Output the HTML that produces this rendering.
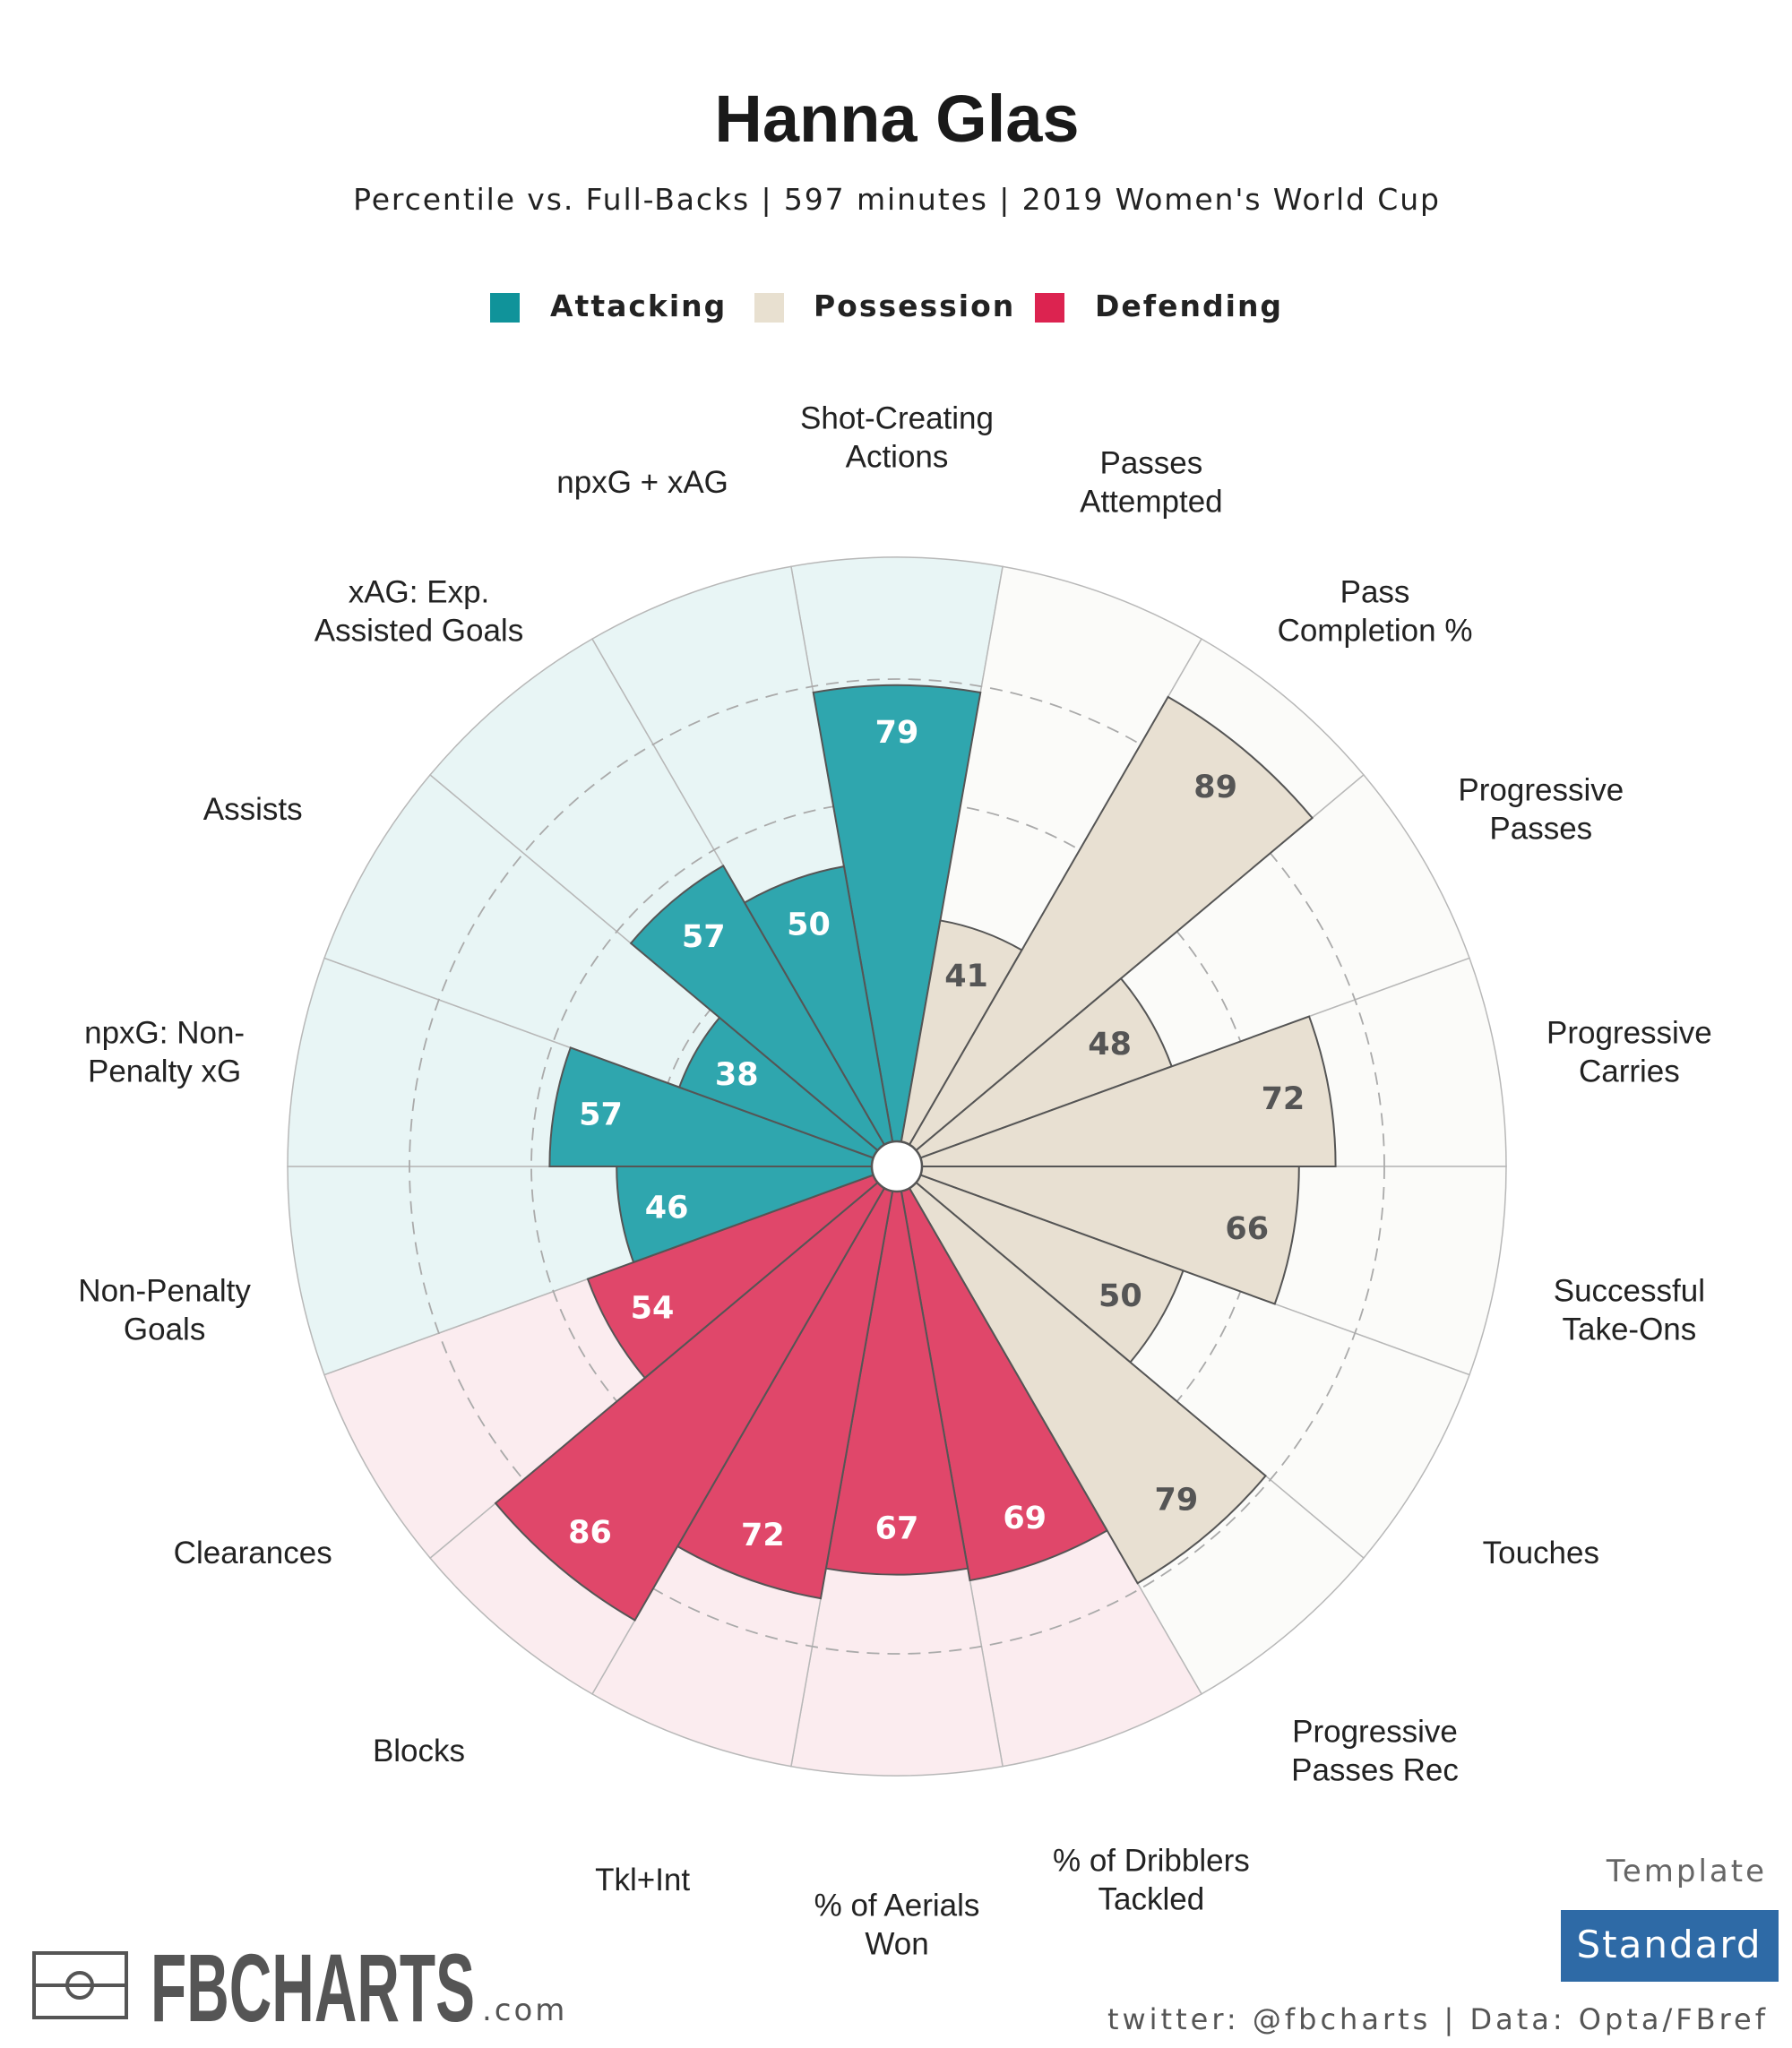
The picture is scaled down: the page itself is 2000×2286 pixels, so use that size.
<!DOCTYPE html>
<html><head><meta charset="utf-8">
<style>
html,body{margin:0;padding:0;background:#fff;}
svg{display:block;}
text{font-family:"Liberation Sans",sans-serif;}
</style></head>
<body>
<svg id="chart" width="2000" height="2286" viewBox="0 0 2000 2286" xmlns="http://www.w3.org/2000/svg">
<rect width="2000" height="2286" fill="#fff"/>
<text x="1001" y="158" text-anchor="middle" font-size="74" font-weight="bold" fill="#1a1a1a">Hanna Glas</text>
<text x="1001" y="234" text-anchor="middle" font-size="33" fill="#222" style="font-family:'DejaVu Sans',sans-serif" letter-spacing="1.9">Percentile vs. Full-Backs | 597 minutes | 2019 Women's World Cup</text>
<g>
 <rect x="547" y="327" width="33" height="33" fill="#10939a"/>
 <text x="614" y="353" font-size="33" font-weight="bold" fill="#222" style="font-family:'DejaVu Sans',sans-serif" letter-spacing="2">Attacking</text>
 <rect x="842" y="327" width="33" height="33" fill="#e8e0d0"/>
 <text x="908" y="353" font-size="33" font-weight="bold" fill="#222" style="font-family:'DejaVu Sans',sans-serif" letter-spacing="2">Possession</text>
 <rect x="1155" y="327" width="33" height="33" fill="#dc2350"/>
 <text x="1222" y="353" font-size="33" font-weight="bold" fill="#222" style="font-family:'DejaVu Sans',sans-serif" letter-spacing="2">Defending</text>
</g>
<g id="bg"></g><g id="grid"></g><g id="bars"></g><g id="vals"></g><g id="labels"></g>
<circle cx="1001" cy="1302" r="28" fill="#fff" stroke="#555" stroke-width="2.5"/>

<g>
 <rect x="38" y="2180" width="103" height="72" fill="none" stroke="#555" stroke-width="4"/>
 <line x1="38" y1="2216" x2="141" y2="2216" stroke="#555" stroke-width="4"/>
 <circle cx="89" cy="2216" r="14" fill="none" stroke="#555" stroke-width="4"/>
 <text x="168" y="2256" font-size="108" font-weight="bold" fill="#555" textLength="362" lengthAdjust="spacingAndGlyphs">FBCHARTS</text>
 <text x="538" y="2255" font-size="34" fill="#555" letter-spacing="3" style="font-family:'DejaVu Sans',sans-serif">.com</text>
</g>
<text x="1972" y="2100" text-anchor="end" font-size="34" fill="#666" letter-spacing="3" style="font-family:'DejaVu Sans',sans-serif">Template</text>
<rect x="1742" y="2132" width="243" height="80" fill="#2e6aa6"/>
<text x="1863" y="2185" text-anchor="middle" font-size="42" fill="#fff" letter-spacing="2" style="font-family:'DejaVu Sans',sans-serif">Standard</text>
<text x="1974" y="2265" text-anchor="end" font-size="32" fill="#555" letter-spacing="4" style="font-family:'DejaVu Sans',sans-serif">twitter: @fbcharts | Data: Opta/FBref</text>
</svg>
<script>
const metrics = [["Shot-Creating","Actions"],["Passes","Attempted"],["Pass","Completion %"],["Progressive","Passes"],["Progressive","Carries"],["Successful","Take-Ons"],["Touches"],["Progressive","Passes Rec"],["% of Dribblers","Tackled"],["% of Aerials","Won"],["Tkl+Int"],["Blocks"],["Clearances"],["Non-Penalty","Goals"],["npxG: Non-","Penalty xG"],["Assists"],["xAG: Exp.","Assisted Goals"],["npxG + xAG"]];
const values = [79,41,89,48,72,66,50,79,69,67,72,86,54,46,57,38,57,50];
const groups = ["att","pos","pos","pos","pos","pos","pos","pos","def","def","def","def","def","att","att","att","att","att"];
const gridTicks = [20,40,60,80];

const CX=1001, CY=1302, R=680, LR=830, STEP=360/values.length;
const barFill={att:"#2fa6ae",pos:"#e8e0d2",def:"#e0476a"};
const bgFill={att:"#e8f5f5",pos:"#fbfbf9",def:"#fbecef"};
const valFill={att:"#fff",pos:"#555",def:"#fff"};
const NS="http://www.w3.org/2000/svg";
function pt(r,a){const t=a*Math.PI/180;return [CX+r*Math.sin(t),CY-r*Math.cos(t)];}
function rScale(v){return v/100*R;}
function sector(r,a0,a1){const p0=pt(r,a0),p1=pt(r,a1);return `M${CX},${CY}L${p0[0]},${p0[1]}A${r},${r} 0 0 1 ${p1[0]},${p1[1]}Z`;}
function mk(tag,parent,attrs){const e=document.createElementNS(NS,tag);for(const k in attrs)e.setAttribute(k,attrs[k]);document.getElementById(parent).appendChild(e);return e;}

values.forEach((v,i)=>{
  const a0=i*STEP-STEP/2,a1=i*STEP+STEP/2,g=groups[i];
  const b=mk("path","bg",{d:sector(R,a0,a1),fill:bgFill[g],stroke:"#b8b8b8","stroke-width":1.5});
  
  
});
gridTicks.forEach(t=>{
  const c=mk("circle","grid",{cx:CX,cy:CY,r:rScale(t),fill:"none",stroke:"#aaa","stroke-width":1.8,"stroke-dasharray":"14 9"});
  
  
});
values.forEach((v,i)=>{
  const a0=i*STEP-STEP/2,a1=i*STEP+STEP/2,g=groups[i],r=rScale(v);
  const p=mk("path","bars",{d:sector(r,a0,a1),fill:barFill[g],stroke:"#555","stroke-width":2});
  
  
  const q=pt(r-52,i*STEP);
  const t=mk("text","vals",{x:q[0],y:q[1]+12,"text-anchor":"middle","font-size":35,"font-weight":"bold",fill:valFill[g],style:"font-family:'DejaVu Sans',sans-serif"});
  t.textContent=v;
  
  
  const lp=pt(LR,i*STEP),lines=metrics[i];
  const lt=mk("text","labels",{x:lp[0],y:lp[1],"text-anchor":"middle","font-size":35,fill:"#222"});
  
  
  lines.forEach((s,k)=>{
    const ts=document.createElementNS(NS,"tspan");
    ts.setAttribute("x",lp[0]);
    ts.setAttribute("y",lp[1]+28+(k-(lines.length-1)/2)*43);
    ts.textContent=s;lt.appendChild(ts);
  });
});
</script>
</body></html>
